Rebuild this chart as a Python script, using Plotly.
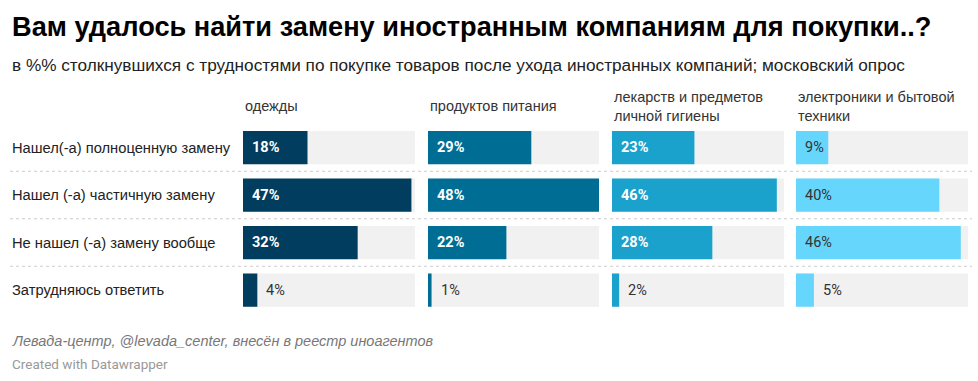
import plotly.graph_objects as go

W, H = 978, 381

title = "Вам удалось найти замену иностранным компаниям для покупки..?"
subtitle = "в %% столкнувшихся с трудностями по покупке товаров после ухода иностранных компаний; московский опрос"
source = "Левада-центр, @levada_center, внесён в реестр иноагентов"
credit = "Created with Datawrapper"

answers = ["Нашел(-а) полноценную замену", "Нашел (-а) частичную замену",
           "Не нашел (-а) замену вообще", "Затрудняюсь ответить"]
groups = ["одежды", "продуктов питания", "лекарств и предметов<br>личной гигиены",
          "электроники и бытовой<br>техники"]
clothes = [18, 47, 32, 4]
food = [29, 48, 22, 1]
medicine = [23, 46, 28, 2]
electronics = [9, 40, 46, 5]
series = [clothes, food, medicine, electronics]

colors = ["#003d5e", "#006d94", "#1aa1cc", "#66d6fc"]
label_colors = ["#ffffff", "#ffffff", "#ffffff", "#333333"]
label_bold = [True, True, True, False]
col_px = [(243, 415), (428, 599), (612, 784), (796, 968)]

SANS = "Liberation Sans"
ROBO = "Roboto"
scale_max = max(max(s) for s in series)

def px(x):
    return x / W

def py(y):
    return 1 - y / H

fig = go.Figure()
layout_axes = {}
annotations = []
for i, (vals, col) in enumerate(zip(series, colors)):
    ax = "x" if i == 0 else f"x{i+1}"
    axkey = "xaxis" if i == 0 else f"xaxis{i+1}"
    fig.add_trace(go.Bar(x=[scale_max] * len(answers), y=answers, orientation="h",
                         marker=dict(color="#f1f1f1", line_width=0), xaxis=ax, yaxis="y",
                         hoverinfo="skip", showlegend=False))
    fig.add_trace(go.Bar(x=vals, y=answers, orientation="h",
                         marker=dict(color=col, line_width=0), xaxis=ax, yaxis="y",
                         showlegend=False))
    layout_axes[axkey] = dict(domain=[px(col_px[i][0]), px(col_px[i][1])],
                              range=[0, scale_max], visible=False, fixedrange=True,
                              anchor="y")
    annotations.append(dict(xref="paper", yref="paper", x=px(col_px[i][0]), y=py(106),
                            xanchor="left", yanchor="middle", align="left",
                            text=groups[i], showarrow=False,
                            font=dict(family=SANS, size=14.5, color="#333333")))
    for a, v in zip(answers, vals):
        inside = v >= 8
        txt = f"<b>{v}%</b>" if (inside and label_bold[i]) else f"{v}%"
        annotations.append(dict(xref=ax, yref="y", x=0 if inside else v, y=a,
                                xanchor="left", yanchor="middle", xshift=7,
                                text=txt, showarrow=False,
                                font=dict(family=ROBO, size=14.5,
                                          color=label_colors[i] if inside else "#333333")))

for a in answers:
    annotations.append(dict(xref="paper", yref="y", x=px(10), y=a, xanchor="left",
                            yanchor="middle", text=a, showarrow=False,
                            font=dict(family=SANS, size=14.7, color="#222222")))

annotations += [
    dict(xref="paper", yref="paper", x=px(10), y=py(27), xanchor="left", yanchor="middle",
         text=f"<b>{title}</b>", showarrow=False,
         font=dict(family=SANS, size=27.2, color="#000000")),
    dict(xref="paper", yref="paper", x=px(10), y=py(65), xanchor="left", yanchor="middle",
         text=subtitle, showarrow=False, font=dict(family=SANS, size=17.2, color="#222222")),
    dict(xref="paper", yref="paper", x=px(10), y=py(341), xanchor="left", yanchor="middle",
         text=f"<i>{source}</i>", showarrow=False,
         font=dict(family=SANS, size=14.5, color="#777777")),
    dict(xref="paper", yref="paper", x=px(10), y=py(364), xanchor="left", yanchor="middle",
         text=credit, showarrow=False, font=dict(family=ROBO, size=13.5, color="#999999")),
]

shapes = [dict(type="line", xref="paper", yref="y", x0=px(10), x1=px(972), y0=k + 0.5,
               y1=k + 0.5, line=dict(color="#cccccc", width=1, dash="dot"))
          for k in range(len(answers) - 1)]

fig.update_layout(
    width=W, height=H, margin=dict(l=0, r=0, t=0, b=0),
    paper_bgcolor="#ffffff", plot_bgcolor="rgba(0,0,0,0)",
    barmode="overlay", bargap=0.3,
    yaxis=dict(domain=[py(313.75), py(123.75)], categoryorder="array",
               categoryarray=answers, autorange="reversed", visible=False,
               fixedrange=True, anchor="x"),
    annotations=annotations, shapes=shapes,
    font=dict(family=SANS), hovermode=False,
    **layout_axes,
)

fig.write_html("out.html", config={"displayModeBar": False},
               post_script="document.body.style.margin='0';document.body.style.overflow='hidden';")
